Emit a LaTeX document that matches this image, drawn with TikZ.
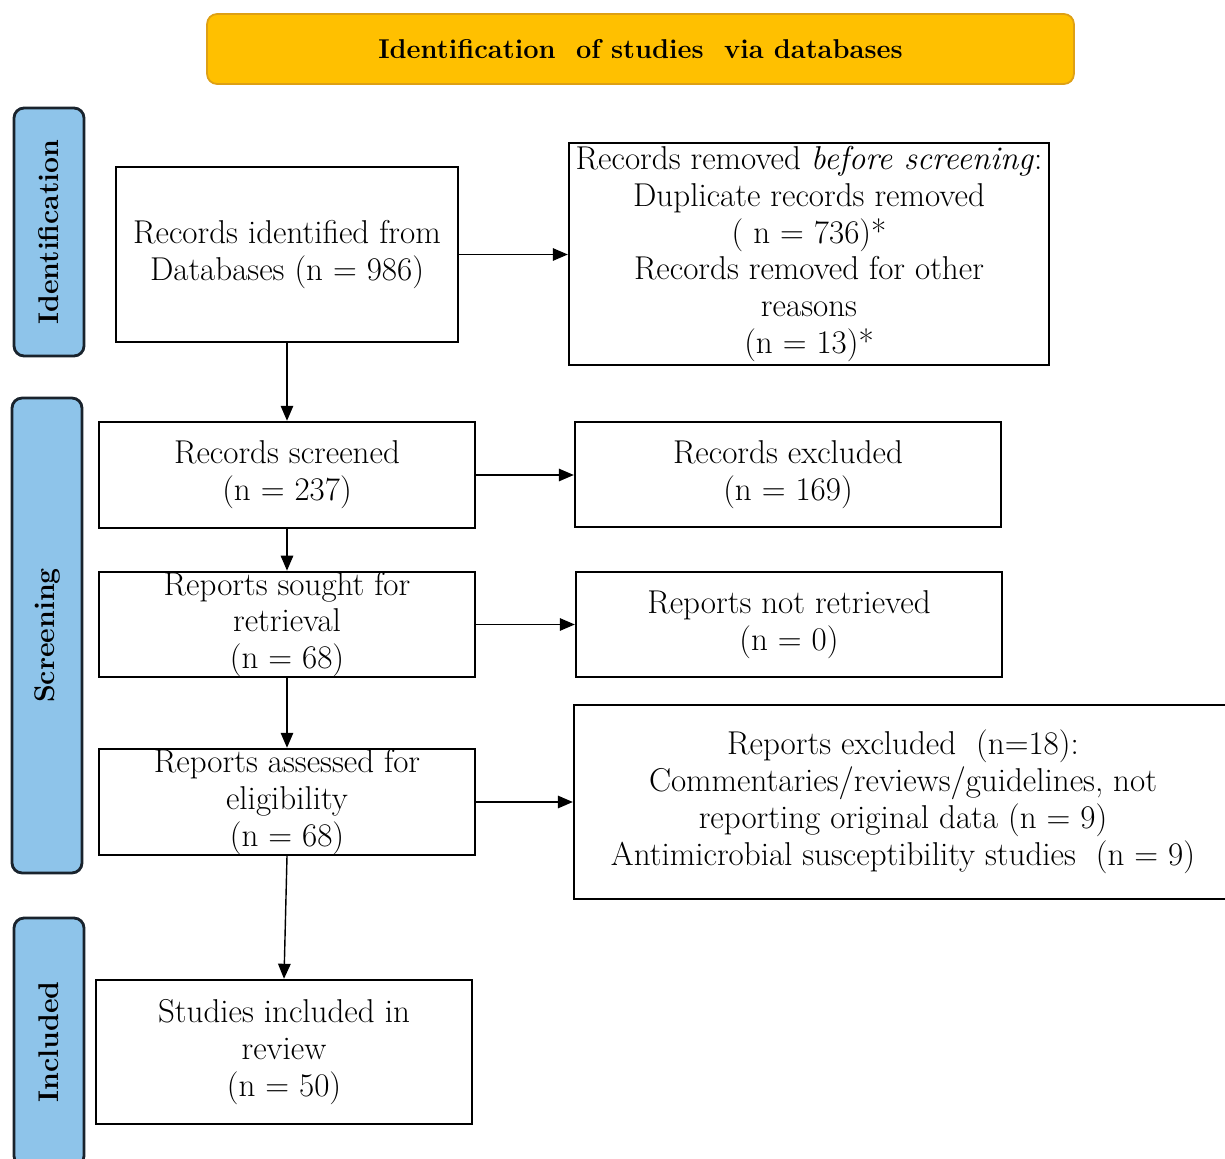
\documentclass[tikz,border=0pt]{standalone}
\usepackage{tikz}
\usetikzlibrary{calc,arrows.meta}
\definecolor{bannerfill}{RGB}{255,192,0}
\definecolor{bannerline}{RGB}{222,160,20}
\definecolor{sidefill}{RGB}{142,196,234}
\definecolor{sideline}{RGB}{25,35,45}

\begin{document}
\begin{tikzpicture}[x=0.02cm,y=-0.02cm,
        box/.style={draw=black,line width=1.4pt,fill=white,inner sep=0pt,align=center,
            font=\fontsize{18.8}{21}\selectfont},
        sidelab/.style={draw=sideline,line width=1.6pt,fill=sidefill,rounded corners=0.2cm,
            rotate=90,minimum height=1.4cm,font=\fontsize{16.2}{18}\selectfont\bfseries},
        flow/.style={line width=.8pt,-{Triangle[length=0.3cm,width=0.25cm]}}]
            \clip (0,0) rectangle (1225,1159);
            \fill[white] (0,0) rectangle (1225,1159);

            % banner and phase labels
            \node[draw=bannerline,line width=1pt,fill=bannerfill,rounded corners=0.2cm,
                minimum width=17.34cm,minimum height=1.4cm,font=\fontsize{15.5}{18}\selectfont\bfseries]
                (banner) at (640.5,49) {Identification~ of studies~ via databases};
            \node[sidelab,minimum width=4.96cm] (ident) at (49,232) {Identification};
            \node[sidelab,minimum width=9.5cm] (screen) at (47,635.5) {Screening};
            \node[sidelab,minimum width=4.96cm] (incl) at (49,1042) {Included};

            % boxes
            \node[box,minimum width=6.84cm,minimum height=3.5cm] (found) at (287,254.5)
                {Records identified from\\Databases (n = 986)};
            \node[box,minimum width=9.6cm,minimum height=4.44cm] (removed) at (809,254)
                {Records removed \textit{before screening}:\\Duplicate records removed\\( n = 736)*\\
                Records removed for other\\reasons\\(n = 13)*};
            \node[box,minimum width=7.52cm,minimum height=2.12cm] (screened) at (287,475)
                {Records screened\\(n = 237)};
            \node[box,minimum width=8.52cm,minimum height=2.1cm] (excl) at (788,474.5)
                {Records excluded\\(n = 169)};
            \node[box,minimum width=7.52cm,minimum height=2.1cm] (sought) at (287,624.5)
                {Reports sought for\\retrieval\\(n = 68)};
            \node[box,minimum width=8.52cm,minimum height=2.1cm] (notret) at (789,624.5)
                {Reports not retrieved\\(n = 0)};
            \node[box,minimum width=7.52cm,minimum height=2.12cm] (assessed) at (287,802)
                {Reports assessed for\\eligibility\\(n = 68)};
            \node[box,minimum width=13.16cm,minimum height=3.88cm] (repexcl) at (903,802)
                {Reports excluded~ (n=18):\\Commentaries/reviews/guidelines, not\\
                reporting original data (n = 9)\\Antimicrobial susceptibility studies~ (n = 9)};
            \node[box,minimum width=7.52cm,minimum height=2.88cm] (included) at (284,1052)
                {Studies included in\\review\\(n = 50)};

            % arrows
            \draw[flow] (found.east) -- (removed.west |- found.east);
            \draw[flow] (found.south) -- (screened.north);
            \draw[flow] (screened.east) -- (excl.west |- screened.east);
            \draw[flow] (screened.south) -- (sought.north);
            \draw[flow] (sought.east) -- (notret.west |- sought.east);
            \draw[flow] (sought.south) -- (assessed.north);
            \draw[flow] (assessed.east) -- (repexcl.west |- assessed.east);
            \draw[flow] (assessed.south) -- (included.north);
        \end{tikzpicture}
\end{document}
